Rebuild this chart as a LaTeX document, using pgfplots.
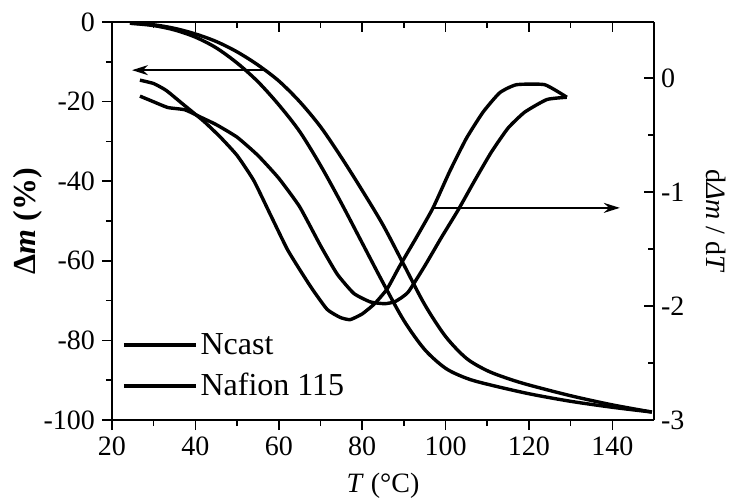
\documentclass[border=0pt]{standalone}
\usepackage{fontspec}
\setmainfont{Liberation Serif}
\usepackage{pgfplots}
\pgfplotsset{compat=1.18}
\usetikzlibrary{arrows.meta,calc}
\newcommand\fs{\fontsize{14}{16}\selectfont}
\newcommand\fl{\fontsize{16}{18}\selectfont}

\begin{document}
\begin{tikzpicture}
\pgfplotsset{
  base/.style={
    scale only axis, width=271pt, height=199pt,
    xmin=20, xmax=150,
    xtick={20,40,...,140}, minor x tick num=1,
    /pgf/number format/assume math mode=true,
    ticklabel style={font=\fs},
    label style={font=\fs},
    axis line style={line width=1.1pt},
    major tick length=5pt, minor tick length=3pt,
    every tick/.style={line width=0.8pt, black},
  },
  curve/.style={black, line width=1.7pt, line join=round},
}
% TG curves, left axis
\begin{axis}[base, name=main,
  ymin=-100, ymax=0, ytick={-100,-80,...,0}, minor y tick num=1,
  axis y line*=left, axis x line*=bottom, tick align=outside,
  xlabel={\textit{T} (°C)},
  xlabel style={at={(axis description cs:0.5,-0.165)}, anchor=center},
  ylabel={\textbf{Δ\textit{m} (\%)}},
  ylabel style={at={(axis description cs:-0.155,0.5)}, anchor=center, font=\fl},
  legend cell align=left,
  legend image code/.code={\draw[black, line width=1.7pt] (0pt,0pt) -- (36pt,0pt);},
  legend style={at={(axis description cs:0.018,0.136)}, anchor=west,
    draw=none, fill=none, inner sep=0pt, row sep=5pt,
    nodes={inner sep=1.5pt}, font=\fl},
]
\addplot[curve, smooth, tension=0.5] coordinates {
  (24.3,-0.3) (30,-0.9) (35,-2.0) (40,-3.8) (45,-6.5) (50,-10.3) (55,-15.0)
  (60,-20.8) (65,-27.5) (70,-36.0) (75,-45.5) (80,-55.5) (85,-65.5)
  (90,-75.0) (95,-82.3) (100,-87.0) (105,-89.5) (110,-91.0) (120,-93.4)
  (130,-95.3) (140,-96.8) (149.5,-98.0)};
\addlegendentry{Ncast}
\addplot[curve, smooth, tension=0.5] coordinates {
  (24.3,-0.3) (30,-0.7) (35,-1.6) (40,-3.0) (45,-4.9) (50,-7.5) (55,-10.8)
  (60,-14.8) (65,-20.0) (70,-26.3) (75,-34.0) (80,-42.3) (85,-51.0)
  (90,-61.0) (95,-71.0) (100,-79.0) (105,-84.5) (110,-87.6) (115,-89.6)
  (120,-91.2) (130,-93.9) (140,-96.2) (149.5,-98.0)};
\addlegendentry{Nafion 115}
\addplot[black, line width=0.8pt, -{Stealth[length=8pt,width=5pt]}, forget plot]
  coordinates {(57.2,-12.1) (24.8,-12.1)};
\end{axis}
% DTG curves, right axis
\begin{axis}[base,
  ymin=-3, ymax=0.49, ytick={-3,-2,-1,0}, minor y tick num=1,
  axis y line*=right, axis x line*=top, tick align=inside,
  xticklabels={},
  ylabel={d\textit{Δm} / d\textit{T}},
  ylabel style={at={(axis description cs:1.115,0.5)}, anchor=center, rotate=180},
]
\addplot[curve, smooth, tension=0.3] coordinates {
  (26.7,-0.02) (30,-0.05) (33,-0.11) (37,-0.23) (42,-0.38) (46,-0.52)
  (50,-0.68) (54,-0.90) (58,-1.20) (62,-1.50) (65,-1.68) (68,-1.85)
  (71.6,-2.03) (74.7,-2.10) (77.1,-2.12) (80,-2.07) (83,-1.98) (86,-1.85)
  (89,-1.65) (93,-1.40) (97,-1.14) (101,-0.82) (105,-0.53) (109,-0.30)
  (113,-0.13) (117,-0.06) (123.8,-0.06) (129.1,-0.17)};
\addplot[curve, smooth, tension=0.3] coordinates {
  (26.7,-0.16) (30,-0.21) (33.4,-0.26) (37.5,-0.28) (41,-0.34) (45,-0.41)
  (50,-0.52) (55,-0.68) (60,-0.88) (65,-1.13) (70,-1.47) (74,-1.72)
  (78,-1.89) (82,-1.965) (85.5,-1.98) (88,-1.96) (91,-1.88) (95,-1.65)
  (99,-1.40) (103,-1.16) (107,-0.90) (111,-0.65) (115,-0.44) (119,-0.30)
  (124.3,-0.19) (129.1,-0.17)};
\addplot[black, line width=0.8pt, -{Stealth[length=8pt,width=5pt]}]
  coordinates {(97,-1.14) (141.8,-1.14)};
\end{axis}
\pgfresetboundingbox
\path[use as bounding box] ($(main.south west)+(-56pt,-41.5pt)$)
  rectangle ($(main.north east)+(38.5pt,11pt)$);
\end{tikzpicture}
\end{document}
